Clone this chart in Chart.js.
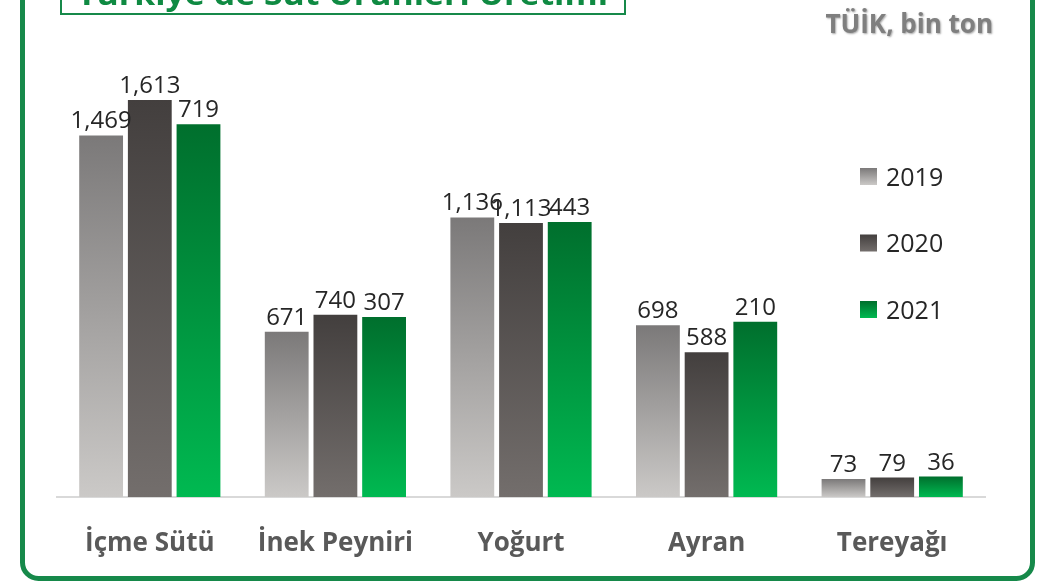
<!DOCTYPE html>
<html lang="tr">

<head>
    <meta charset="UTF-8">
    <title>Türkiye'de Süt Ürünleri Üretimi</title>
    <script src="https://cdn.jsdelivr.net/npm/chart.js"></script>
    <style>
        body {
            margin: 0;
            padding: 0;
            background-color: #fff;
        }

        .chart-box {
            position: relative;
            width: 1038px;
            height: 583px;
            overflow: hidden;
        }
    </style>
</head>

<body>

    <div class="chart-box">
        <canvas id="milkChart"></canvas>
    </div>

    <script>
        // data (bin ton, TÜİK)
        const categories = ['İçme Sütü', 'İnek Peyniri', 'Yoğurt', 'Ayran', 'Tereyağı'];
        const years = ['2019', '2020', '2021'];
        const values2019 = [1469, 671, 1136, 698, 73];
        const values2020 = [1613, 740, 1113, 588, 79];
        const values2021 = [1515, 731, 1117, 712, 83]; // bar heights as drawn
        const labels2021 = ['719', '307', '443', '210', '36']; // numbers printed on the 2021 bars

        const fmt = v => v.toLocaleString('en-US');

        // gradient colours per series (top -> bottom)
        const gradTop = ['#7b7979', '#433f3e', '#006f2d'];
        const gradBottom = ['#cbc9c7', '#736e6c', '#00b951'];
        const green = '#16894a';

        function barGradient(idx) {
            return function(context) {
                const chart = context.chart;
                const {ctx, chartArea, scales} = chart;
                if (!chartArea || context.raw === undefined) return gradTop[idx];
                const top = scales.y.getPixelForValue(context.raw);
                const bottom = scales.y.getPixelForValue(0);
                const g = ctx.createLinearGradient(0, top, 0, bottom);
                g.addColorStop(0, gradTop[idx]);
                g.addColorStop(1, gradBottom[idx]);
                return g;
            };
        }

        // frame, title box and source note
        const framePlugin = {
            id: 'frame',
            beforeDraw(chart) {
                const ctx = chart.ctx;
                ctx.save();
                ctx.fillStyle = '#fff';
                ctx.fillRect(0, 0, chart.width, chart.height);

                ctx.strokeStyle = green;
                ctx.lineWidth = 5;
                ctx.beginPath();
                ctx.roundRect(22.5, -20, 1010, 598.5, 16);
                ctx.stroke();

                ctx.fillStyle = '#fff';
                ctx.fillRect(61, -20, 564, 34);
                ctx.lineWidth = 2;
                ctx.strokeRect(61, -20, 564, 34);

                // title, mostly cut off by the top edge
                ctx.font = 'bold 30px "Open Sans"';
                const title = "Türkiye'de Süt Ürünleri Üretimi";
                const w = ctx.measureText(title).width;
                ctx.translate(77, 5);
                ctx.scale(531 / w, 1);
                ctx.fillStyle = '#0f8a42';
                ctx.textBaseline = 'alphabetic';
                ctx.fillText(title, 0, 0);
                ctx.restore();

                ctx.save();
                ctx.font = 'bold 26px "Open Sans"';
                ctx.textAlign = 'right';
                ctx.textBaseline = 'alphabetic';
                ctx.shadowColor = 'rgba(0,0,0,0.35)';
                ctx.shadowOffsetX = 1;
                ctx.shadowOffsetY = 1;
                ctx.shadowBlur = 2;
                ctx.fillStyle = '#7f7f7f';
                ctx.fillText('TÜİK, bin ton', 993, 33);
                ctx.restore();
            }
        };

        // value labels over the bars
        const valueLabels = {
            id: 'valueLabels',
            afterDatasetsDraw(chart) {
                const ctx = chart.ctx;
                ctx.save();
                ctx.font = '24px "Open Sans"';
                ctx.fillStyle = '#262626';
                ctx.textAlign = 'center';
                ctx.textBaseline = 'alphabetic';
                chart.data.datasets.forEach((ds, i) => {
                    chart.getDatasetMeta(i).data.forEach((bar, j) => {
                        ctx.fillText(ds.valueText[j], bar.x, bar.y - 7);
                    });
                });
                ctx.restore();
            }
        };

        // legend sitting inside the plot, on the right
        const sideLegend = {
            id: 'sideLegend',
            afterDraw(chart) {
                const ctx = chart.ctx;
                ctx.save();
                ctx.font = '25px "Open Sans"';
                ctx.fillStyle = '#262626';
                ctx.textBaseline = 'alphabetic';
                chart.data.datasets.forEach((ds, i) => {
                    const y = 168 + i * 66.5;
                    const g = ctx.createLinearGradient(0, y, 0, y + 17);
                    g.addColorStop(0, gradTop[i]);
                    g.addColorStop(1, gradBottom[i]);
                    ctx.fillStyle = g;
                    ctx.fillRect(860, y, 17, 17);
                    ctx.fillStyle = '#262626';
                    ctx.fillText(ds.label, 886, y + 17.5);
                });
                ctx.restore();
            }
        };

        const seriesValues = [values2019, values2020, values2021];
        const seriesText = [values2019.map(fmt), values2020.map(fmt), labels2021];

        new Chart(document.getElementById('milkChart'), {
            type: 'bar',
            data: {
                labels: categories,
                datasets: years.map((y, i) => ({
                    label: y,
                    data: seriesValues[i],
                    valueText: seriesText[i],
                    backgroundColor: barGradient(i),
                    borderWidth: 0,
                    categoryPercentage: 0.787,
                    barPercentage: 0.9
                }))
            },
            options: {
                responsive: true,
                maintainAspectRatio: false,
                animation: false,
                layout: {
                    padding: {
                        left: 57,
                        right: 53,
                        top: 78.6,
                        bottom: 21
                    }
                },
                plugins: {
                    legend: {
                        display: false
                    },
                    tooltip: {
                        enabled: false
                    }
                },
                scales: {
                    x: {
                        afterFit(scale) {
                            scale.height = 65;
                        },
                        grid: {
                            display: false,
                            drawTicks: false
                        },
                        border: {
                            display: true,
                            color: '#d9d9d9',
                            width: 2
                        },
                        ticks: {
                            padding: 31,
                            color: '#595959',
                            font: {
                                family: 'Open Sans',
                                size: 26,
                                weight: 'bold'
                            }
                        }
                    },
                    y: {
                        display: false,
                        min: 0,
                        max: 1700
                    }
                }
            },
            plugins: [framePlugin, valueLabels, sideLegend]
        });
    </script>

</body>

</html>
